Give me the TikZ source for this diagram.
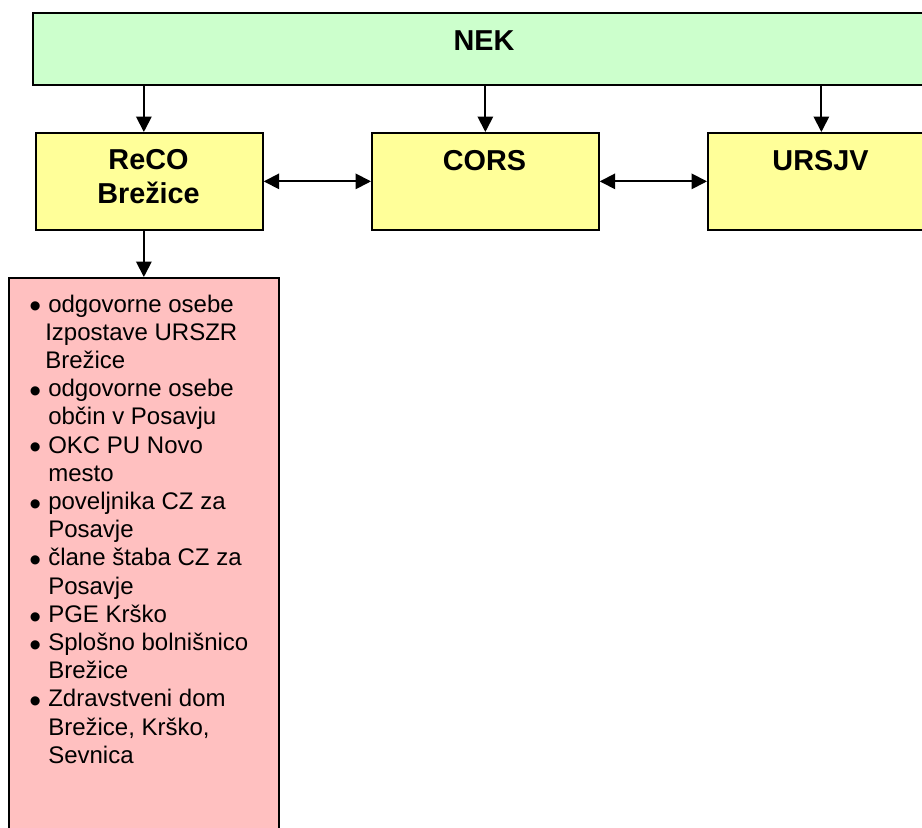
\documentclass[tikz,border=0pt]{standalone}
\usepackage{fontspec}
\setmainfont{Liberation Sans}
\usetikzlibrary{arrows.meta}

\definecolor{nekgreen}{HTML}{CCFFCC}
\definecolor{unityellow}{HTML}{FFFF99}
\definecolor{listpink}{HTML}{FFC0C0}

\newcommand{\bitem}[1]{\makebox[14.25pt][l]{\smash{\raisebox{-4.4pt}{\scalebox{1.4}{\textbullet}}}}#1}
\newcommand{\bcont}[1]{\hspace*{14.25pt}#1}

\tikzset{
	box/.style={draw=black, line width=1.3pt, inner sep=0pt, anchor=north west},
	unit/.style={box, fill=unityellow, minimum width=170.25pt, minimum height=72.75pt},
	title/.style={font=\fontsize{21.6}{25.5}\selectfont\bfseries, anchor=north, inner sep=0pt, align=center},
	arr/.style={line width=1.4pt, -{Triangle[length=11.5pt,width=11.5pt]}},
	dblarr/.style={line width=1.4pt, {Triangle[length=11.5pt,width=11.5pt]}-{Triangle[length=11.5pt,width=11.5pt]}}
}

\begin{document}
\begin{tikzpicture}[x=0.75pt, y=-0.75pt]
	\useasboundingbox (0,0) rectangle (922,828);
	\clip (0,0) rectangle (922,828);

	% boxes
	\node[box, fill=nekgreen, minimum width=678pt, minimum height=54pt] (nek) at (32,12) {};
	\node[unit] (reco) at (35,132) {};
	\node[unit] (cors) at (371,132) {};
	\node[unit] (ursjv) at (707,132) {};
	\node[box, fill=listpink, minimum width=202.5pt, minimum height=450pt] (list) at (8,277) {};

	% titles
	\node[title] (nektext) at (484,30.5) {NEK};
	\node[title] (recotext) at (148.5,149.5) {ReCO\\Brežice};
	\node[title] (corstext) at (484.5,150.5) {CORS};
	\node[title] (ursjvtext) at (820.5,150.5) {URSJV};

	% list of recipients
	\node[anchor=base west, inner sep=0pt, font=\fontsize{18}{21.15}\selectfont] (items) at (29,312) {\parbox[t]{200pt}{%
		\bitem{odgovorne osebe}\\
		\hspace*{12pt}Izpostave URSZR\\
		\hspace*{12pt}Brežice\\
		\bitem{odgovorne osebe}\\
		\bcont{občin v Posavju}\\
		\bitem{OKC PU Novo}\\
		\bcont{mesto}\\
		\bitem{poveljnika CZ za}\\
		\bcont{Posavje}\\
		\bitem{člane štaba CZ za}\\
		\bcont{Posavje}\\
		\bitem{PGE Krško}\\
		\bitem{Splošno bolnišnico}\\
		\bcont{Brežice}\\
		\bitem{Zdravstveni dom}\\
		\bcont{Brežice, Krško,}\\
		\bcont{Sevnica}}};

	% connectors
	\draw[arr] (nek.south -| list.north) -- (reco.north -| list.north);
	\draw[arr] (nek.south -| cors.north) -- (cors.north);
	\draw[arr] (nek.south -| ursjv.north) -- (ursjv.north);
	\draw[dblarr] (reco.east) -- (cors.west);
	\draw[dblarr] (cors.east) -- (ursjv.west);
	\draw[arr] (reco.south -| list.north) -- (list.north);

\end{tikzpicture}
\end{document}
